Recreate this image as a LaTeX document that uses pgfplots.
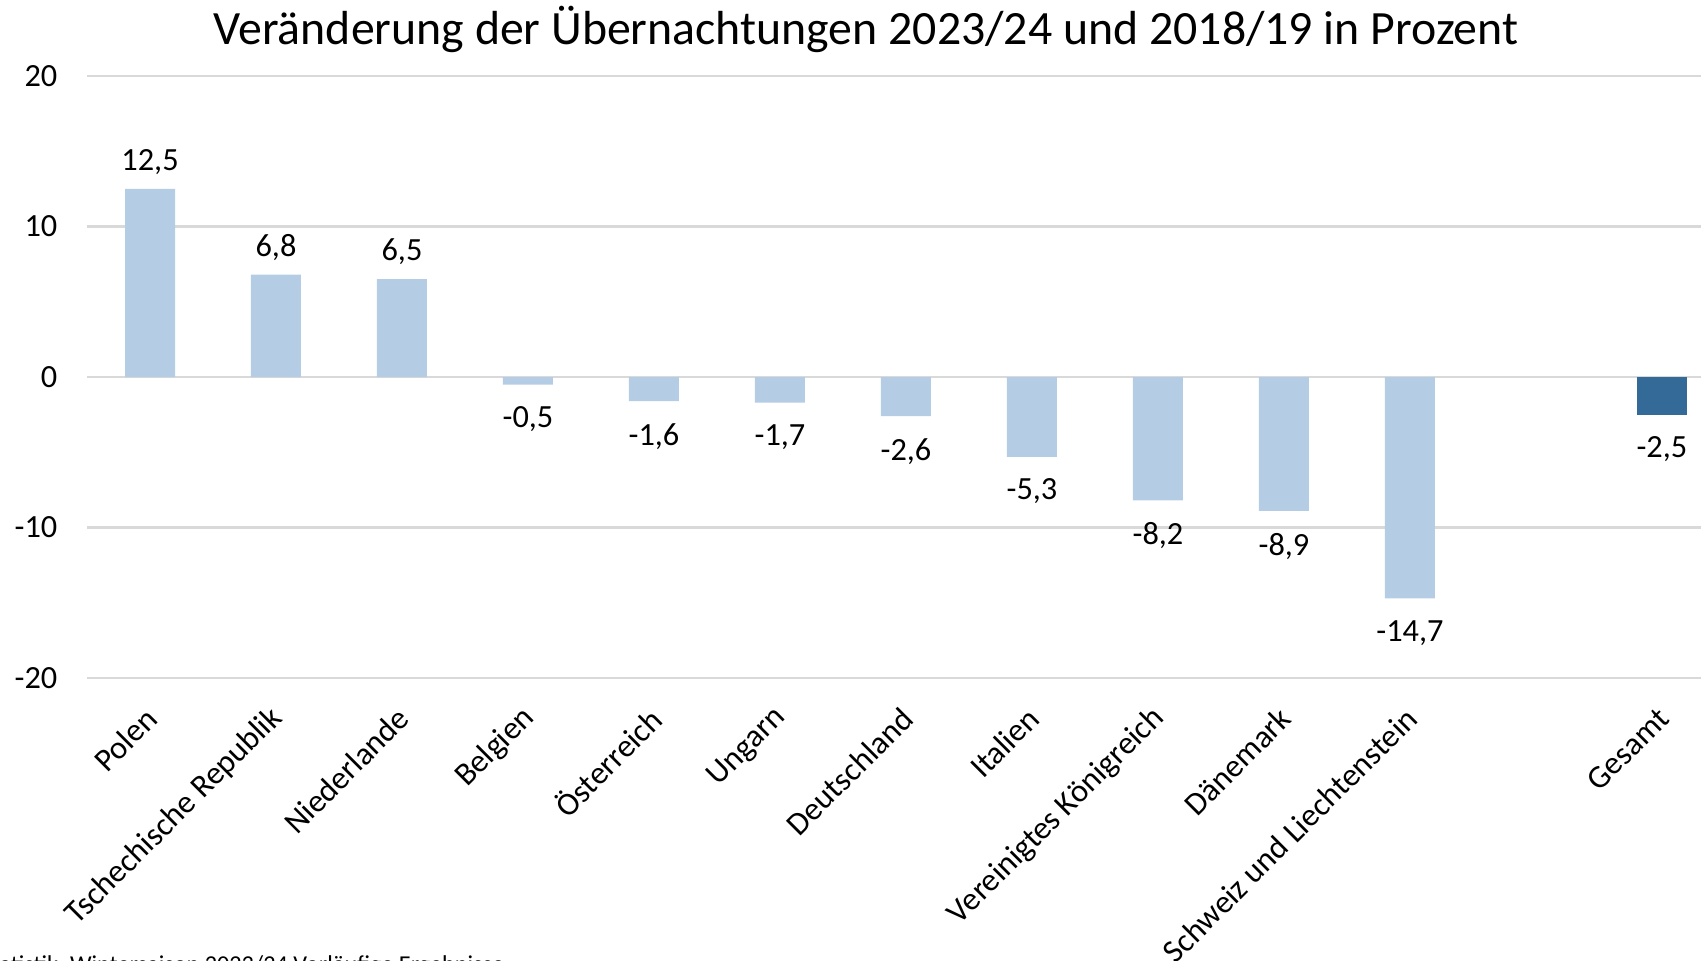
\documentclass[border=0pt]{standalone}
\usepackage{pgfplots}
\usepackage{pgfplotstable}
\pgfplotsset{compat=1.18}
\usepackage{fontspec}
\setmainfont{Carlito}
\definecolor{lightbar}{HTML}{B4CDE4}
\definecolor{darkbar}{HTML}{336A98}
\definecolor{gridgray}{HTML}{D9D9D9}

\pgfplotstableread{
x y label
0 12.5 12,5
1 6.8 6,8
2 6.5 6,5
}\lightpos

\pgfplotstableread{
x y label
3 -0.5 -0,5
4 -1.6 -1,6
5 -1.7 -1,7
6 -2.6 -2,6
7 -5.3 -5,3
8 -8.2 -8,2
9 -8.9 -8,9
10 -14.7 -14,7
}\lightneg

\pgfplotstableread{
x y label
12 -2.5 -2,5
}\darktab

\begin{document}
\begin{tikzpicture}
\begin{axis}[
  at={(8.7mm,28.2mm)}, anchor=south west,
  scale only axis, width=161.4mm, height=60.2mm,
  xmin=-0.5, xmax=12.31, ymin=-20, ymax=20,
  axis line style={draw=none},
  major tick style={draw=none},
  ymajorgrids, grid style={gridgray, line width=0.6pt},
  ytick={-20,-10,0,10,20}, yticklabels={-20,-10,0,10,20},
  xtick={0,1,2,3,4,5,6,7,8,9,10,12},
  xticklabels={Polen,Tschechische Republik,Niederlande,Belgien,Österreich,Ungarn,Deutschland,Italien,Vereinigtes Königreich,Dänemark,Schweiz und Liechtenstein,Gesamt},
  tick label style={font=\fontsize{9.2}{11}\selectfont},
  yticklabel style={inner sep=0pt, anchor=east, xshift=-2.9mm},
  xticklabel style={xshift=0.2mm, yshift=-2.0mm, rotate=45, anchor=east, inner sep=0pt},
  ybar, bar width=5mm, bar shift=0pt,
  nodes near coords, point meta=explicit symbolic,
  every node near coord/.append style={font=\fontsize{9.2}{11}\selectfont, inner sep=1.75mm, text=black, yshift=-0.4mm},
]
\addplot[fill=lightbar, draw=none, every node near coord/.append style={anchor=south}] table[x=x, y=y, meta=label]{\lightpos};
\addplot[fill=lightbar, draw=none, every node near coord/.append style={anchor=north}] table[x=x, y=y, meta=label]{\lightneg};
\addplot[fill=darkbar, draw=none, every node near coord/.append style={anchor=north}] table[x=x, y=y, meta=label]{\darktab};
\end{axis}
\node[font=\fontsize{13.6}{16}\selectfont] at (86.6mm,93.1mm) {Veränderung der Übernachtungen 2023/24 und 2018/19 in Prozent};
\node[font=\fontsize{6.9}{8}\selectfont, anchor=base east, inner sep=0pt] at (50.5mm,-1.2mm) {Quelle: Landesamt Statistik; Wintersaison 2023/24 Vorläufige Ergebnisse};
\pgfresetboundingbox
\useasboundingbox (0,0) rectangle (170.1mm,96mm);
\end{tikzpicture}
\end{document}
